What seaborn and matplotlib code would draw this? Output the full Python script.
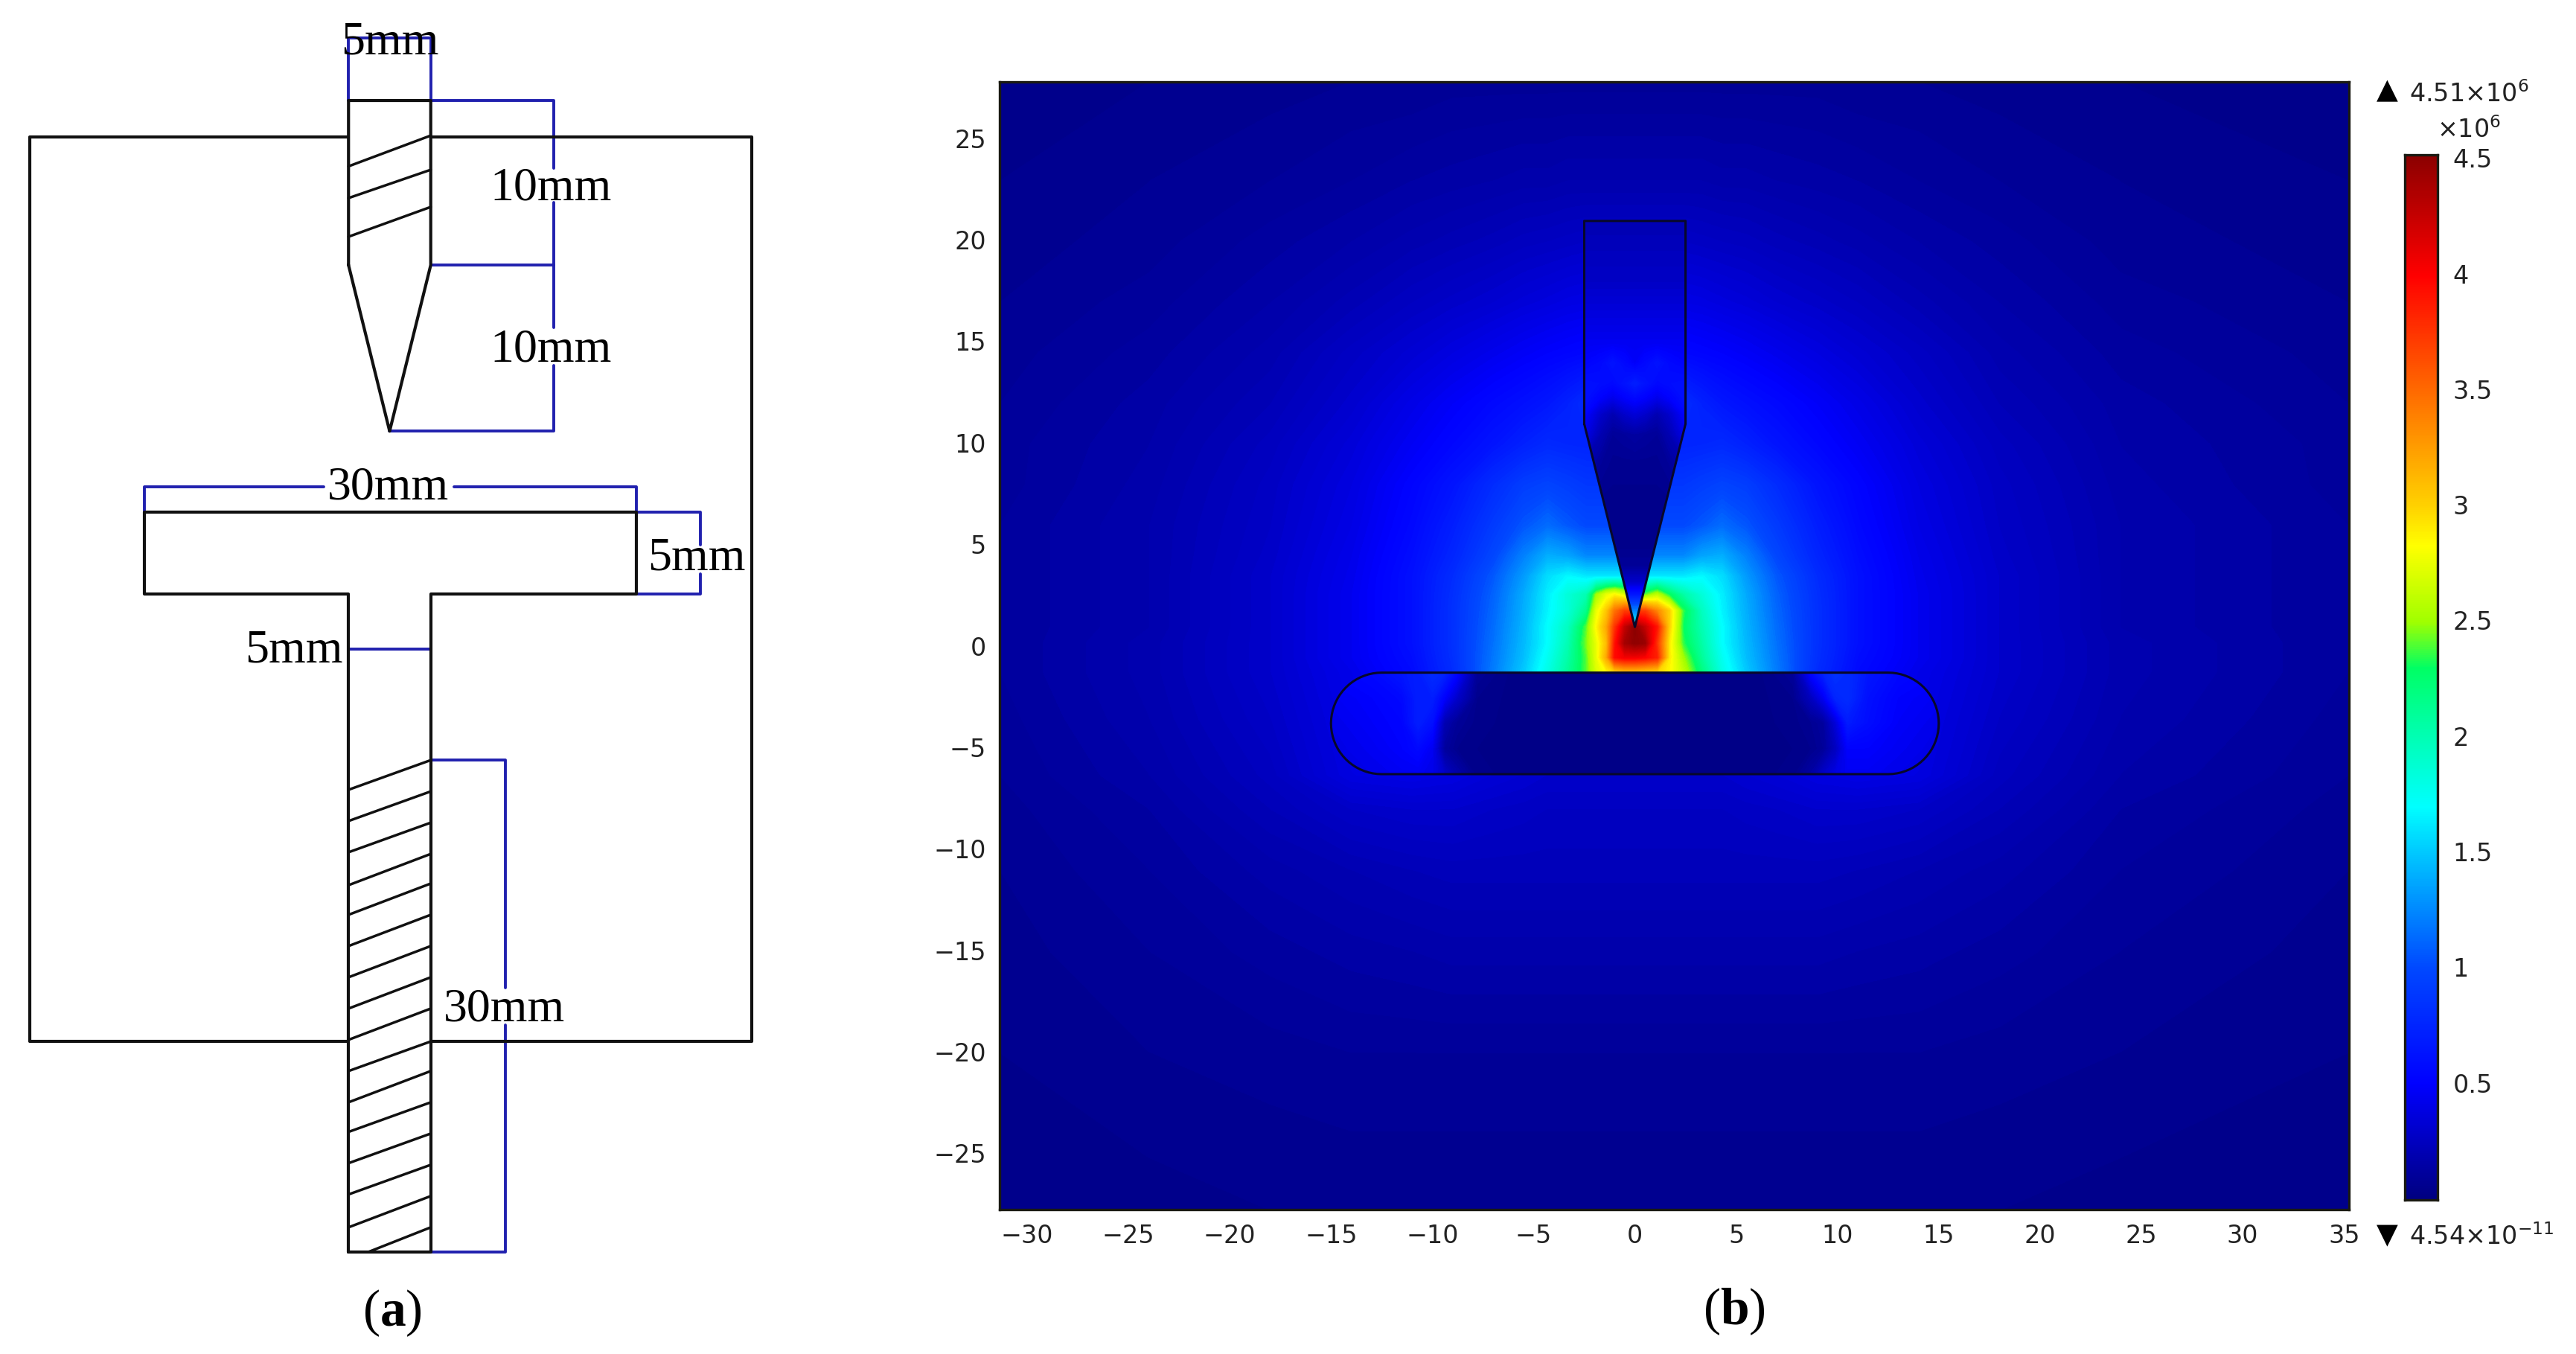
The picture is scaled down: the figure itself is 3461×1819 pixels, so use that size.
import numpy as np
import matplotlib
matplotlib.use("Agg")
import matplotlib.pyplot as plt
from matplotlib.colors import LinearSegmentedColormap
from matplotlib.patches import Polygon
from matplotlib.transforms import ScaledTranslation
import seaborn as sns

sns.set_theme(style="white")
plt.rcParams["font.family"] = ["DejaVu Sans"]
plt.rcParams["mathtext.fontset"] = "custom"
plt.rcParams["mathtext.rm"] = "DejaVu Sans"
plt.rcParams["mathtext.it"] = "DejaVu Sans"
plt.rcParams["mathtext.bf"] = "Liberation Serif:bold"

# ---------- panel (a): dimensions in mm ----------
BOX_X = [22, -21.9]
BOX_Y = [12.8, 67.8]
TOOL_X = [-2.5, -2.5, 2.5, 2.5, 0, -2.5]
TOOL_Y = [60, 70, 70, 60, 49.9, 60]
TEE_X = [-2.5, -2.5, -14.9, -14.9, 15, 15, 2.5, 2.5, -2.5]
TEE_Y = [0, 40, 40, 45, 45, 40, 40, 0, 0]
HATCH_TOP_L = [66.0, 64.07, 61.72]
HATCH_TOP_R = [67.87, 65.79, 63.53]
HATCH_LOW_L = [28.1, 26.2, 24.3, 22.3, 20.5, 18.6, 16.7, 14.8, 12.9, 11.0, 9.1, 7.3, 5.4, 3.5, 1.5]
HATCH_LOW_R = [29.9, 28.0, 26.1, 24.2, 22.4, 20.5, 18.6, 16.7, 14.8, 12.8, 11.0, 9.1, 7.2, 5.3, 3.4]
HATCH_LAST_X = [-1.3, 2.5]
HATCH_LAST_Y = [0, 1.5]
DIM_SEGMENTS = [
    ([-2.5, -2.5, 2.5, 2.5], [70, 73.8, 73.8, 70]),
    ([2.5, 10, 10], [70, 70, 65.9]),
    ([10, 10], [63.8, 56.2]),
    ([10, 10, 0], [53.9, 49.9, 49.9]),
    ([2.5, 10], [60, 60]),
    ([-14.9, -14.9, -4], [45, 46.5, 46.5]),
    ([3.9, 15, 15], [46.5, 46.5, 45]),
    ([15, 18.9, 18.9], [45, 45, 43.0]),
    ([18.9, 18.9, 15], [41.2, 40, 40]),
    ([-2.5, 2.5, 2.5], [36.65, 36.65, 35.05]),
    ([2.5, 7.05, 7.05], [29.9, 29.9, 16.06]),
    ([7.05, 7.05, 2.5], [13.8, 0, 0]),
]
DIM_LABELS = ["5mm", "10mm", "10mm", "30mm", "5mm", "5mm", "30mm"]
DIM_LABEL_X = [0, 9.8, 9.8, -0.07, 18.66, -5.8, 6.95]
DIM_LABEL_Y = [73.5, 64.66, 54.84, 46.43, 42.13, 36.56, 14.75]

# ---------- panel (b): field, in units of 1e6 ----------
STOP_VALUES = [0, 0.5, 1.0, 1.5, 1.7, 2.0, 2.3, 2.5, 2.83, 3.0, 3.5, 4.0, 4.52]
STOP_COLORS = ["#000080", "#0000ff", "#0048ff", "#00c8ff", "#00ffff", "#00ffb4", "#00ff64",
               "#a0ff00", "#ffff00", "#ffd200", "#ff6a00", "#ff0000", "#8b0000"]
VMAX = 4.52

FIELD_X = [-31.4, -24, -18, -14, -11, -9, -7, -5.5, -4.3, -3.3, -2.4, -1.9, -1.4, -1, -0.5, 0,
           0.5, 1.1, 1.7, 2.4, 3.3, 4.3, 5.5, 7, 9, 11, 14, 18, 24, 35.3]
FIELD_Y = [27.9, 23, 20, 17, 14.5, 12, 10, 8, 6, 4.5, 3.5, 2.6, 1.8, 1, 0.2, -0.5, -1.2,
           -3.5, -6.3, -8, -11, -15, -20, -27.8]
FIELD = [
 [.05,.06,.07,.08,.08,.09,.09,.09,.09,.09,.09,.09,.09,.09,.09,.09,.09,.09,.09,.09,.09,.09,.09,.09,.09,.08,.08,.07,.06,.05],
 [.06,.08,.10,.12,.14,.15,.16,.17,.17,.18,.18,.18,.18,.18,.18,.18,.18,.18,.18,.18,.18,.17,.17,.16,.15,.14,.12,.10,.08,.06],
 [.07,.09,.13,.16,.19,.21,.23,.25,.26,.27,.28,.28,.28,.28,.28,.28,.28,.28,.28,.28,.27,.26,.25,.23,.21,.19,.16,.13,.09,.07],
 [.08,.11,.16,.21,.26,.29,.32,.35,.37,.39,.40,.40,.40,.40,.40,.40,.40,.40,.40,.40,.39,.37,.35,.32,.29,.26,.21,.16,.11,.08],
 [.09,.13,.19,.27,.33,.38,.43,.47,.50,.52,.54,.54,.54,.54,.54,.54,.54,.54,.54,.54,.52,.50,.47,.43,.38,.33,.27,.19,.13,.09],
 [.10,.15,.22,.31,.41,.48,.55,.60,.65,.72,.80,.80,.80,.80,.80,.80,.80,.80,.80,.80,.72,.65,.60,.55,.48,.41,.31,.22,.15,.10],
 [.11,.16,.25,.35,.46,.54,.63,.72,.78,.76,.75,.75,.75,.75,.75,.75,.75,.75,.75,.75,.76,.78,.72,.63,.54,.46,.35,.25,.16,.11],
 [.11,.17,.27,.38,.52,.63,.80,.92,.96,.92,.88,.88,.88,.88,.88,.88,.88,.88,.88,.88,.92,.96,.92,.80,.63,.52,.38,.27,.17,.11],
 [.12,.18,.28,.40,.55,.70,.90,1.05,1.14,1.06,1.00,1.00,1.00,1.00,1.00,1.00,1.00,1.00,1.00,1.00,1.06,1.14,1.05,.90,.70,.55,.40,.28,.18,.12],
 [.12,.18,.29,.42,.58,.75,.98,1.22,1.40,1.36,1.25,1.25,1.25,1.25,1.25,1.25,1.25,1.25,1.25,1.25,1.36,1.40,1.22,.98,.75,.58,.42,.29,.18,.12],
 [.12,.18,.30,.43,.60,.80,1.06,1.32,1.58,1.68,1.62,1.62,1.62,1.62,1.62,1.62,1.62,1.62,1.62,1.62,1.68,1.58,1.32,1.06,.80,.60,.43,.30,.18,.12],
 [.12,.18,.30,.44,.60,.82,1.10,1.38,1.64,1.85,2.00,2.50,2.75,2.85,2.70,2.40,2.40,2.60,2.30,2.05,1.85,1.64,1.38,1.10,.82,.60,.44,.30,.18,.12],
 [.12,.18,.30,.44,.60,.83,1.12,1.40,1.66,1.85,2.15,2.75,3.05,3.45,3.70,3.70,3.70,3.35,3.00,2.35,1.95,1.66,1.40,1.12,.83,.60,.44,.30,.18,.12],
 [.12,.18,.30,.44,.60,.83,1.14,1.42,1.70,1.95,2.40,2.85,3.20,3.75,4.25,4.52,4.25,3.90,3.00,2.30,2.00,1.70,1.42,1.14,.83,.60,.44,.30,.18,.12],
 [.12,.19,.30,.44,.60,.83,1.16,1.44,1.70,2.00,2.45,2.75,3.10,3.90,4.40,4.50,4.45,3.75,2.90,2.35,2.05,1.70,1.44,1.16,.83,.60,.44,.30,.19,.12],
 [.12,.19,.30,.44,.58,.82,1.18,1.46,1.75,2.05,2.40,2.75,3.20,3.95,4.05,4.05,4.00,3.85,2.90,2.50,2.10,1.75,1.46,1.18,.82,.58,.44,.30,.19,.12],
 [.12,.19,.30,.42,.56,.80,1.20,1.50,1.80,2.10,2.40,2.70,2.85,3.00,3.10,3.10,3.05,3.00,2.85,2.60,2.20,1.80,1.50,1.20,.80,.56,.42,.30,.19,.12],
 [.11,.18,.28,.40,.50,.40,.30,.30,.30,.30,.30,.30,.30,.30,.30,.30,.30,.30,.30,.30,.30,.30,.30,.30,.40,.50,.40,.28,.18,.11],
 [.10,.16,.25,.38,.40,.38,.34,.32,.30,.30,.30,.30,.30,.30,.30,.30,.30,.30,.30,.30,.30,.30,.32,.34,.38,.40,.38,.25,.16,.10],
 [.09,.14,.22,.28,.30,.30,.28,.27,.26,.26,.26,.26,.26,.26,.26,.26,.26,.26,.26,.26,.26,.26,.27,.28,.30,.30,.28,.22,.14,.09],
 [.08,.12,.17,.20,.22,.23,.23,.23,.23,.23,.23,.23,.23,.23,.23,.23,.23,.23,.23,.23,.23,.23,.23,.23,.23,.22,.20,.17,.12,.08],
 [.07,.10,.13,.15,.16,.17,.17,.17,.17,.17,.17,.17,.17,.17,.17,.17,.17,.17,.17,.17,.17,.17,.17,.17,.17,.16,.15,.13,.10,.07],
 [.06,.08,.09,.10,.10,.10,.10,.10,.10,.10,.10,.10,.10,.10,.10,.10,.10,.10,.10,.10,.10,.10,.10,.10,.10,.10,.10,.09,.08,.06],
 [.05,.05,.06,.06,.06,.06,.06,.06,.06,.06,.06,.06,.06,.06,.06,.06,.06,.06,.06,.06,.06,.06,.06,.06,.06,.06,.06,.06,.05,.05],
]

NEEDLE_X = [-2.6, -1.7, -1.1, -0.5, 0, 0.5, 1.1, 1.7, 2.6]
NEEDLE_Y = [21.1, 18, 15, 14, 13, 12.3, 11.5, 10.5, 9, 7, 5, 4, 3.2, 2.6, 2, 1]
NEEDLE_FIELD = [
 [.20,.20,.20,.20,.20,.20,.20,.20,.20],
 [.28,.28,.28,.28,.28,.28,.28,.28,.28],
 [.45,.45,.45,.45,.45,.45,.45,.45,.45],
 [.50,.55,.62,.55,.48,.55,.62,.55,.50],
 [.60,.58,.55,.62,.70,.62,.55,.58,.60],
 [.62,.50,.42,.50,.55,.50,.42,.50,.62],
 [.55,.30,.20,.30,.35,.30,.20,.30,.55],
 [.45,.20,.10,.12,.14,.12,.10,.20,.45],
 [.20,.10,.07,.07,.07,.07,.07,.10,.20],
 [.08,.05,.05,.05,.05,.05,.05,.05,.08],
 [.05,.05,.05,.05,.05,.05,.05,.05,.05],
 [.10,.10,.10,.10,.10,.10,.10,.10,.10],
 [.30,.30,.30,.30,.30,.30,.30,.30,.30],
 [.65,.65,.65,.65,.65,.65,.65,.65,.65],
 [1.1,1.1,1.1,1.1,1.1,1.1,1.1,1.1,1.1],
 [1.8,1.8,1.8,1.8,1.8,1.8,1.8,1.8,1.8],
]
NEEDLE_OUTLINE_X = [-2.5, -2.5, 2.5, 2.5, 0, -2.5]
NEEDLE_OUTLINE_Y = [11, 21, 21, 11, 1, 11]

BAR_X = [-15.1, -13, -11.5, -10.7, -10, -9.4, -8.8, -7.8, -6, 0, 6, 7.8, 8.7, 9.3, 9.9, 10.5, 11.5, 13, 15.1]
BAR_Y = [-1.2, -2.5, -3.7, -5, -6.3]
BAR_FIELD = [
 [.50,.55,.65,.70,.80,.75,.55,.10,.03,.03,.03,.10,.55,.75,.85,.80,.65,.55,.50],
 [.45,.50,.55,.70,.70,.50,.30,.06,.03,.03,.03,.06,.25,.45,.75,.80,.60,.50,.45],
 [.42,.48,.52,.70,.60,.20,.10,.05,.03,.03,.03,.05,.08,.12,.35,.68,.58,.48,.42],
 [.40,.45,.50,.55,.45,.12,.06,.04,.03,.03,.03,.04,.06,.10,.25,.50,.50,.45,.40],
 [.38,.42,.45,.45,.42,.30,.18,.05,.03,.03,.03,.05,.15,.30,.40,.45,.45,.42,.38],
]
BAR_HALF_FLAT, BAR_CENTER_Y, BAR_RADIUS = 12.5, -3.75, 2.5

X_TICKS = [-30, -25, -20, -15, -10, -5, 0, 5, 10, 15, 20, 25, 30, 35]
Y_TICKS = [-25, -20, -15, -10, -5, 0, 5, 10, 15, 20, 25]
CBAR_TICKS = [0.5, 1, 1.5, 2, 2.5, 3, 3.5, 4, 4.5]
CBAR_LABELS = ["0.5", "1", "1.5", "2", "2.5", "3", "3.5", "4", "4.5"]

W, H = 3462, 1819
BLACK = "#111111"
BLUE = "#2020ae"
GREY = "#222222"
SERIF = "Liberation Serif"

fig = plt.figure(figsize=(W / 100, H / 100), dpi=100, facecolor="white")


def line(ax, xs, ys, color=BLACK, lw=3.0):
    sns.lineplot(x=xs, y=ys, sort=False, estimator=None, errorbar=None, color=color,
                 linewidth=lw, legend=False, ax=ax)


# ---------- panel (a) ----------
ax_a = fig.add_axes([0, 0, 1100 / W, 1])
for xs, ys in DIM_SEGMENTS:
    line(ax_a, xs, ys, BLUE, 2.8)
line(ax_a, [-2.5, BOX_X[1], BOX_X[1], -2.5], [BOX_Y[1], BOX_Y[1], BOX_Y[0], BOX_Y[0]])
line(ax_a, [2.5, BOX_X[0], BOX_X[0], 2.5], [BOX_Y[0], BOX_Y[0], BOX_Y[1], BOX_Y[1]])
line(ax_a, TOOL_X, TOOL_Y)
line(ax_a, TEE_X, TEE_Y)
for yl, yr in zip(HATCH_TOP_L, HATCH_TOP_R):
    line(ax_a, [-2.5, 2.5], [yl, yr], lw=2.5)
for yl, yr in zip(HATCH_LOW_L, HATCH_LOW_R):
    line(ax_a, [-2.5, 2.5], [yl, yr], lw=2.5)
line(ax_a, HATCH_LAST_X, HATCH_LAST_Y, lw=2.5)
for s, x, y in zip(DIM_LABELS, DIM_LABEL_X, DIM_LABEL_Y):
    ax_a.text(x, y, s, family=SERIF, fontsize=46, color="black", ha="center", va="center")
ax_a.text(0.16, -3.7, r"($\mathbf{a}$)", family=SERIF, fontsize=50, color="black",
          ha="center", va="center")
ax_a.set_xlim(-23.69, 26.09)
ax_a.set_ylim(-6.20, 76.11)
ax_a.axis("off")

# ---------- panel (b) ----------
cmap = LinearSegmentedColormap.from_list(
    "field", [(v / VMAX, c) for v, c in zip(STOP_VALUES, STOP_COLORS)], N=512)
levels = np.linspace(0, VMAX, 226)

ax_b = fig.add_axes([1343 / W, 1 - 1625 / H, (3156 - 1343) / W, (1625 - 110) / H])
ax_b.contourf(FIELD_X, FIELD_Y, np.array(FIELD), levels=levels, cmap=cmap, extend="both",
              antialiased=False, zorder=1)

needle = Polygon(np.column_stack([NEEDLE_OUTLINE_X, NEEDLE_OUTLINE_Y]), closed=True,
                 facecolor="none", edgecolor="none", transform=ax_b.transData)
ax_b.add_patch(needle)
cs_n = ax_b.contourf(NEEDLE_X, NEEDLE_Y, np.array(NEEDLE_FIELD), levels=levels, cmap=cmap,
                     extend="both", antialiased=False, zorder=2)
cs_n.set_clip_path(needle)

arc = np.deg2rad(np.arange(-90, 91, 5))
bar_x = np.r_[BAR_HALF_FLAT + BAR_RADIUS * np.cos(arc), -BAR_HALF_FLAT - BAR_RADIUS * np.cos(arc[::-1])]
bar_y = np.r_[BAR_CENTER_Y + BAR_RADIUS * np.sin(arc), BAR_CENTER_Y + BAR_RADIUS * np.sin(arc[::-1])]
bar = Polygon(np.column_stack([bar_x, bar_y]), closed=True, facecolor="none",
              edgecolor="#08082a", linewidth=2.2, zorder=4, transform=ax_b.transData)
ax_b.add_patch(bar)
cs_b = ax_b.contourf(BAR_X, BAR_Y, np.array(BAR_FIELD), levels=levels, cmap=cmap,
                     extend="both", antialiased=False, zorder=2)
cs_b.set_clip_path(bar)

line(ax_b, NEEDLE_OUTLINE_X, NEEDLE_OUTLINE_Y, "#08082a", 2.2)
ax_b.lines[-1].set_zorder(4)

ax_b.set_xlim(-31.36, 35.25)
ax_b.set_ylim(-27.7, 27.85)
ax_b.set_xticks(X_TICKS)
ax_b.set_xticklabels([str(t).replace("-", "\u2212") for t in X_TICKS])
ax_b.set_yticks(Y_TICKS)
ax_b.set_yticklabels([str(t).replace("-", "\u2212") for t in Y_TICKS])
ax_b.tick_params(axis="both", which="major", direction="in", length=10.5, width=2.2,
                 color="black", top=True, right=True, bottom=True, left=True,
                 labelsize=24, labelcolor=GREY, zorder=6)
ax_b.tick_params(axis="x", pad=14)
ax_b.tick_params(axis="y", pad=13)
for side in ax_b.spines.values():
    side.set_visible(True)
    side.set_color("#1a1a12")
    side.set_linewidth(2.4)
    side.set_zorder(7)
ax_b.grid(False)
ax_b.set_xlabel("")
ax_b.set_ylabel("")
up = ScaledTranslation(0, 2 / 100, fig.dpi_scale_trans)
for lab in ax_b.get_yticklabels():
    lab.set_transform(lab.get_transform() + up)

fig.text(2330 / W, 1 - 1762 / H, r"($\mathbf{b}$)", family=SERIF, fontsize=50, color="black",
         ha="center", va="center")

# ---------- colour scale ----------
cax = fig.add_axes([3231 / W, 1 - 1612 / H, (3275 - 3231) / W, (1612 - 208) / H])
ramp = np.linspace(VMAX, 0, 512).reshape(-1, 1)
sns.heatmap(ramp, ax=cax, cmap=cmap, vmin=0, vmax=VMAX, cbar=False,
            xticklabels=False, yticklabels=False)
cax.set_yticks([(VMAX - v) / VMAX * len(ramp) for v in CBAR_TICKS])
cax.set_yticklabels(CBAR_LABELS, rotation=0)
cax.tick_params(axis="y", direction="in", length=5, width=2.0, color="black",
                left=True, right=True, labelleft=False, labelright=True,
                labelsize=24, labelcolor=GREY, pad=15)
for lab in cax.get_yticklabels():
    lab.set_transform(lab.get_transform() + up)
for side in cax.spines.values():
    side.set_visible(True)
    side.set_color("#1a1a12")
    side.set_linewidth(2.4)

fig.text(3207.5 / W, 1 - 122 / H, "\u25b2", fontsize=27, color="black", ha="center", va="center")
fig.text(3207.5 / W, 1 - 1660 / H, "\u25bc", fontsize=27, color="black", ha="center", va="center")
fig.text(3237 / W, 1 - 137 / H, "4.51\u00d710$^{6}$", fontsize=24, color=GREY, ha="left", va="baseline")
fig.text(3274 / W, 1 - 185 / H, "\u00d710$^{6}$", fontsize=24, color=GREY, ha="left", va="baseline")
fig.text(3237 / W, 1 - 1672 / H, "4.54\u00d710$^{\u221211}$", fontsize=24, color=GREY, ha="left", va="baseline")

fig.savefig("out.png", dpi=100, facecolor="white")
